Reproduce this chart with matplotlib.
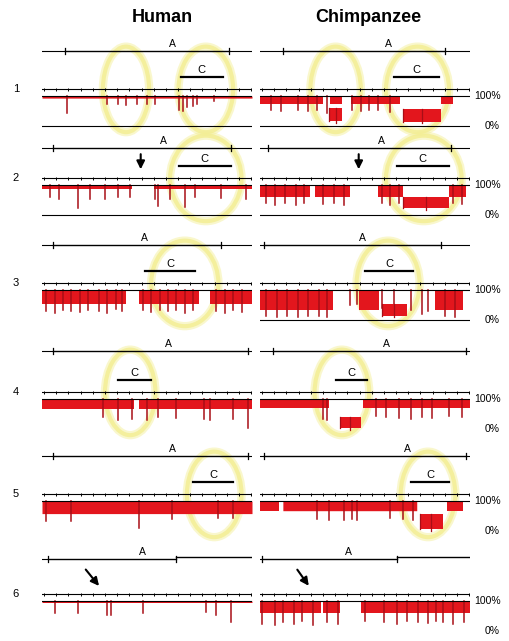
import numpy as np
import matplotlib.pyplot as plt
from matplotlib.patches import Ellipse

plt.rcParams['font.family'] = ['Liberation Sans', 'DejaVu Sans']

# ---- data (x in % of region, y in % coverage) ----
row_names = ['1', '2', '3', '4', '5', '6']

human_a = [(11, 89), (5, 90), (5, 85), (5, 98), (5, 98), (3, 64)]
chimp_a = [(11, 88), (4, 91), (2, 86), (6, 98), (2, 98), (1, 65)]
human_a_label = [62, 58, 49, 60, 62, 48]
chimp_a_label = [61, 58, 49, 60, 70, 42]
human_c = [(66, 86), (65, 90), (49, 73), (36, 52), (72, 91), None]
chimp_c = [(64, 85), (65, 90), (50, 73), (36, 51), (72, 90), None]

human_base = [93, 88, 55, 66, 58, 95]
chimp_base = [74, 60, 35, 70, 66, 60]

human_gaps = [[], [(43, 53)], [(40, 46), (75, 80)], [(44, 46)], [], []]
chimp_gaps = [[(30, 33), (39, 43), (67, 86), (92, 100)],
              [(24, 26), (43, 56), (68, 90), (98, 100)],
              [(35, 47), (57, 83), (97, 100)],
              [(33, 49)],
              [(9, 11), (75, 89), (97, 100)],
              [(29, 30), (38, 48)]]

human_spikes = [
    [(12, 45), (31, 72), (36, 72), (40, 70), (45, 72), (50, 72), (54, 74),
     (65, 55), (67, 50), (69, 62), (72, 68), (74, 75), (82, 82)],
    [(4, 60), (8, 55), (17, 25), (23, 55), (30, 55), (36, 60), (42, 60),
     (54, 55), (55, 30), (61, 55), (68, 28), (73, 60), (85, 58), (97, 55)],
    [(2, 30), (6, 25), (10, 35), (14, 30), (18, 28), (22, 35), (27, 30),
     (31, 25), (35, 38), (38, 30), (48, 32), (52, 28), (56, 35), (60, 30),
     (64, 33), (68, 25), (72, 35), (83, 30), (87, 25), (91, 35), (95, 28)],
    [(29, 40), (36, 30), (43, 35), (50, 30), (55, 40), (64, 38), (77, 35),
     (80, 30), (91, 35), (98, 5)],
    [(2, 35), (14, 35), (46, 10), (62, 40), (84, 45), (91, 45)],
    [(6, 60), (17, 60), (31, 55), (33, 55), (48, 60), (78, 65), (83, 55),
     (90, 30)],
]
chimp_spikes = [
    [(5, 55), (10, 50), (18, 55), (23, 50), (27, 52), (32, 45), (44, 55),
     (48, 50), (52, 55), (56, 52), (62, 48)],
    [(3, 40), (7, 35), (12, 40), (17, 35), (21, 40), (30, 38), (35, 40),
     (40, 35), (58, 40), (62, 35), (66, 40), (92, 40), (96, 38)],
    [(3, 15), (8, 10), (13, 15), (18, 10), (23, 12), (28, 15), (32, 10),
     (43, 50), (46, 55), (58, 40), (64, 50), (72, 35), (77, 20), (80, 30),
     (88, 15), (93, 10)],
    [(30, 33), (32, 30), (55, 45), (60, 40), (66, 38), (72, 35), (77, 40),
     (82, 38), (90, 45), (96, 40)],
    [(27, 40), (33, 38), (40, 36), (44, 40), (46, 38), (62, 42), (68, 40),
     (73, 38)],
    [(1, 25), (7, 20), (11, 30), (16, 25), (20, 35), (25, 20), (32, 30),
     (37, 25), (50, 35), (59, 30), (65, 25), (70, 35), (75, 30), (80, 28),
     (84, 35), (87, 30), (92, 25), (97, 30)],
]
# low-coverage blocks: (start, end, top, bottom)
chimp_blocks = [[(33, 39, 60, 17), (68, 86, 57, 15)],
                [(68, 90, 60, 22)],
                [(58, 70, 52, 15)],
                [(38, 48, 40, 3)],
                [(76, 87, 58, 6)],
                []]

human_circles = [[(40, 22), (78, 26)], [(78, 34)], [(68, 32)], [(42, 24)], [(82, 26)], []]
chimp_circles = [[(36, 24), (75, 30)], [(78, 36)], [(61, 30)], [(39, 26)], [(80, 26)], []]

human_arrow = [None, (47, 47), None, None, None, (20, 28)]
chimp_arrow = [None, (47, 47), None, None, None, (17, 24)]

human_zero_line = [True, True, False, False, False, False]
chimp_zero_line = [True, True, True, False, False, False]

# ---- layout ----
W, H = 509, 641
zero_px = [126, 215, 320, 429, 531, 631]
a_level = [250, 222, 250, 260, 250, 240]
track_level = 122
c_level = 165
RED = '#e3161d'
DARK = '#a80e16'
YELLOW = '#f3ee92'

fig = plt.figure(figsize=(W / 100, H / 100), dpi=100)
fig.text(162 / W, 1 - 18 / H, 'Human', ha='center', va='center', fontsize=13, fontweight='bold')
fig.text(368 / W, 1 - 18 / H, 'Chimpanzee', ha='center', va='center', fontsize=13, fontweight='bold')

x = np.linspace(0, 100, 801)


def draw_panel(ax, r, a, a_lab, c, base, gaps, spikes, blocks, circles, arrow, zline):
    ax.set_xlim(0, 100)
    ax.set_ylim(-20, 280)
    ax.axis('off')

    # yellow circles (soft edge)
    for cx, w in circles:
        ax.add_patch(Ellipse((cx, 122), w, 285, fill=False, ec=YELLOW, lw=6,
                             alpha=0.45, zorder=1, clip_on=False))
        ax.add_patch(Ellipse((cx, 122), w, 285, fill=False, ec=YELLOW, lw=3,
                             alpha=0.8, zorder=1, clip_on=False))

    # A line with brackets
    lv = a_level[r]
    ax.plot([0, a[0]], [lv, lv], color='k', lw=0.8)
    ax.plot([a[0], a[1]], [lv, lv], color='k', lw=1.0)
    shift = 8 if r == 5 else 0
    ax.plot([a[1], 100], [lv + shift, lv + shift], color='k', lw=1.0 if shift else 0.8)
    for p in a:
        ax.plot([p, p], [lv - 10, lv + 10], color='k', lw=0.9)
    ax.text(a_lab, lv + 8, 'A', ha='center', va='bottom', fontsize=7.5)

    # C bar
    if c is not None:
        ax.plot([c[0], c[1]], [c_level, c_level], color='k', lw=1.6)
        ax.text((c[0] + c[1]) / 2, c_level + 6, 'C', ha='center', va='bottom', fontsize=8)

    # scale track
    ax.plot([0, 100], [track_level, track_level], color='k', lw=0.8)
    ax.vlines(np.arange(1, 100, 5.8), track_level - 4, track_level + 6, color='k', lw=0.7)

    # 100% line
    ax.plot([0, 100], [100, 100], color='k', lw=0.8, zorder=3)

    # coverage band
    mask = np.ones_like(x, dtype=bool)
    for g0, g1 in gaps:
        mask &= ~((x >= g0) & (x <= g1))
    ax.fill_between(x, base, 100, where=mask, color=RED, lw=0, zorder=2)
    for sx, lvl in spikes:
        ax.plot([sx, sx], [lvl, 100], color=DARK, lw=1.1, zorder=2)
    for b0, b1, top, bot in blocks:
        ax.fill_between([b0, b1], bot, top, color=RED, lw=0, zorder=2)
        ax.plot([b0, b0], [bot, top], color=DARK, lw=0.9, zorder=2)
        ax.plot([(b0 + b1) / 2, (b0 + b1) / 2], [bot - 6, top], color=DARK, lw=0.9, zorder=2)

    if zline:
        ax.plot([0, 100], [0, 0], color='k', lw=0.8)

    if arrow is not None:
        ax.annotate('', xy=(arrow[1], 143), xytext=(arrow[0], 212),
                    arrowprops=dict(arrowstyle='-|>', color='k', lw=1.5,
                                    mutation_scale=12))


for r in range(6):
    bottom = 1 - (zero_px[r] + 6) / H
    height = 90 / H
    axh = fig.add_axes([42 / W, bottom, 210 / W, height])
    draw_panel(axh, r, human_a[r], human_a_label[r], human_c[r], human_base[r],
               human_gaps[r], human_spikes[r], [], human_circles[r],
               human_arrow[r], human_zero_line[r])
    axc = fig.add_axes([260 / W, bottom, 210 / W, height])
    draw_panel(axc, r, chimp_a[r], chimp_a_label[r], chimp_c[r], chimp_base[r],
               chimp_gaps[r], chimp_spikes[r], chimp_blocks[r], chimp_circles[r],
               chimp_arrow[r], chimp_zero_line[r])
    axc.text(102, 100, '100%', ha='left', va='center', fontsize=7.5, clip_on=False)
    axc.text(107, 0, '0%', ha='left', va='center', fontsize=7.5, clip_on=False)
    fig.text(16 / W, 1 - (zero_px[r] - track_level * 0.3) / H, row_names[r],
             ha='center', va='center', fontsize=8)

fig.savefig('out.png', dpi=100)
